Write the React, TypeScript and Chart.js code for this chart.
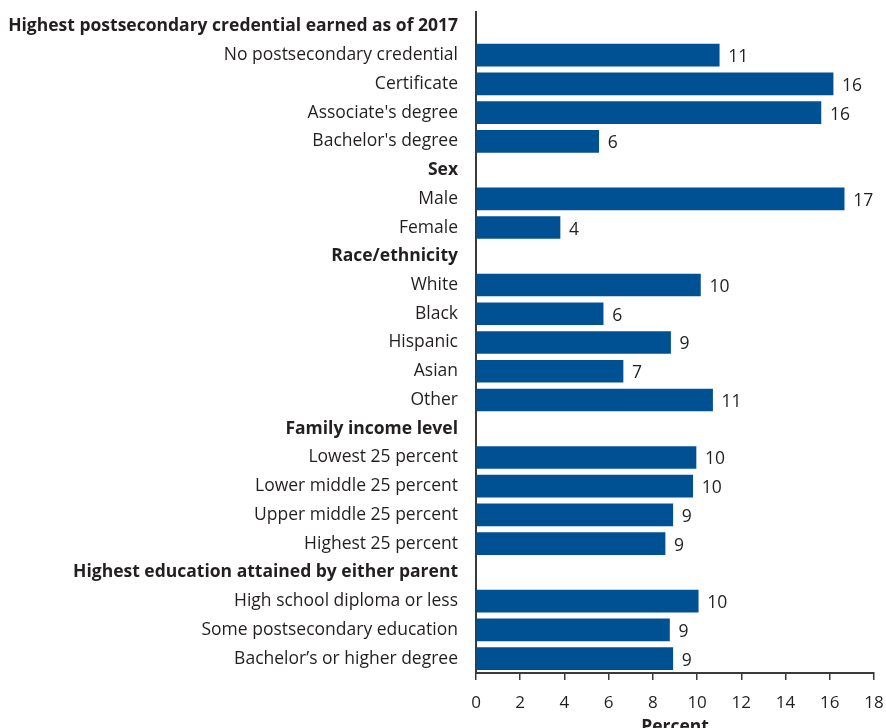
import React, { useEffect, useRef } from "react";
import { Chart, registerables } from "chart.js";

Chart.register(...registerables);

const rowLabels: string[] = [
  "Highest postsecondary credential earned as of 2017",
  "No postsecondary credential",
  "Certificate",
  "Associate's degree",
  "Bachelor's degree",
  "Sex",
  "Male",
  "Female",
  "Race/ethnicity",
  "White",
  "Black",
  "Hispanic",
  "Asian",
  "Other",
  "Family income level",
  "Lowest 25 percent",
  "Lower middle 25 percent",
  "Upper middle 25 percent",
  "Highest 25 percent",
  "Highest education attained by either parent",
  "High school diploma or less",
  "Some postsecondary education",
  "Bachelor’s or higher degree",
];

const isHeader: boolean[] = [
  true, false, false, false, false,
  true, false, false,
  true, false, false, false, false, false,
  true, false, false, false, false,
  true, false, false, false,
];

const percentValues: (number | null)[] = [
  null, 11.0, 16.15, 15.6, 5.55,
  null, 16.65, 3.8,
  null, 10.15, 5.75, 8.8, 6.65, 10.7,
  null, 9.95, 9.8, 8.9, 8.55,
  null, 10.05, 8.75, 8.9,
];

const valueLabels: (string | null)[] = [
  null, "11", "16", "16", "6",
  null, "17", "4",
  null, "10", "6", "9", "7", "11",
  null, "10", "10", "9", "9",
  null, "10", "9", "9",
];

const xTicks: number[] = [0, 2, 4, 6, 8, 10, 12, 14, 16, 18];

const FONT = "'Open Sans', 'Noto Sans', sans-serif";
const TEXT = "#231f20";
const BAR = "#005193";
const AXIS = "#3a3a3a";

const valueLabelPlugin = {
  id: "valueLabels",
  afterDatasetsDraw(chart: any) {
    const ctx = chart.ctx;
    const meta = chart.getDatasetMeta(0);
    ctx.save();
    ctx.font = `17.5px ${FONT}`;
    ctx.fillStyle = TEXT;
    ctx.textAlign = "left";
    ctx.textBaseline = "middle";
    meta.data.forEach((el: any, i: number) => {
      const lbl = valueLabels[i];
      if (lbl == null || percentValues[i] == null) return;
      ctx.fillText(lbl, el.x + 9, el.y + 2);
    });
    ctx.restore();
  },
};

export default function App() {
  const canvasRef = useRef<HTMLCanvasElement | null>(null);

  useEffect(() => {
    if (!canvasRef.current) return;
    const chart = new Chart(canvasRef.current, {
      type: "bar",
      data: {
        labels: rowLabels,
        datasets: [
          {
            data: percentValues as any,
            backgroundColor: BAR,
            borderWidth: 0,
            barThickness: 22,
          },
        ],
      },
      options: {
        indexAxis: "y",
        animation: false,
        responsive: true,
        maintainAspectRatio: false,
        layout: { padding: { top: 12, right: 12, bottom: 0, left: 0 } },
        plugins: {
          legend: { display: false },
          tooltip: { enabled: false },
        },
        scales: {
          y: {
            type: "category",
            offset: true,
            grid: { display: false, drawTicks: false },
            border: { display: true, color: AXIS, width: 2 },
            ticks: {
              autoSkip: false,
              padding: 18,
              color: TEXT,
              font: (c: any) => ({
                family: FONT,
                size: 17.5,
                weight: isHeader[c.index] ? "bold" : "normal",
              }),
            },
            afterFit: (s: any) => {
              s.width = 476;
              s.paddingTop = 0;
              s.paddingBottom = 0;
            },
          },
          x: {
            type: "linear",
            min: 0,
            max: 18,
            afterBuildTicks: (s: any) => {
              s.ticks = xTicks.map((v) => ({ value: v }));
            },
            grid: {
              display: true,
              drawOnChartArea: false,
              drawTicks: true,
              tickLength: 7,
              color: AXIS,
              lineWidth: 1.5,
            },
            border: { display: true, color: AXIS, width: 2 },
            ticks: {
              color: TEXT,
              padding: 13,
              font: { family: FONT, size: 17 },
            },
            title: {
              display: true,
              text: "Percent",
              color: TEXT,
              font: { family: FONT, size: 17.5, weight: "bold" },
              padding: { top: 0, bottom: -10 },
            },
            afterFit: (s: any) => {
              s.height = 55;
              s.paddingLeft = 0;
              s.paddingRight = 0;
            },
          },
        },
      },
      plugins: [valueLabelPlugin],
    });
    return () => chart.destroy();
  }, []);

  return (
    <div
      style={{
        position: "absolute",
        left: 0,
        top: 0,
        width: 886,
        height: 728,
        background: "#ffffff",
      }}
    >
      <canvas ref={canvasRef} />
    </div>
  );
}
